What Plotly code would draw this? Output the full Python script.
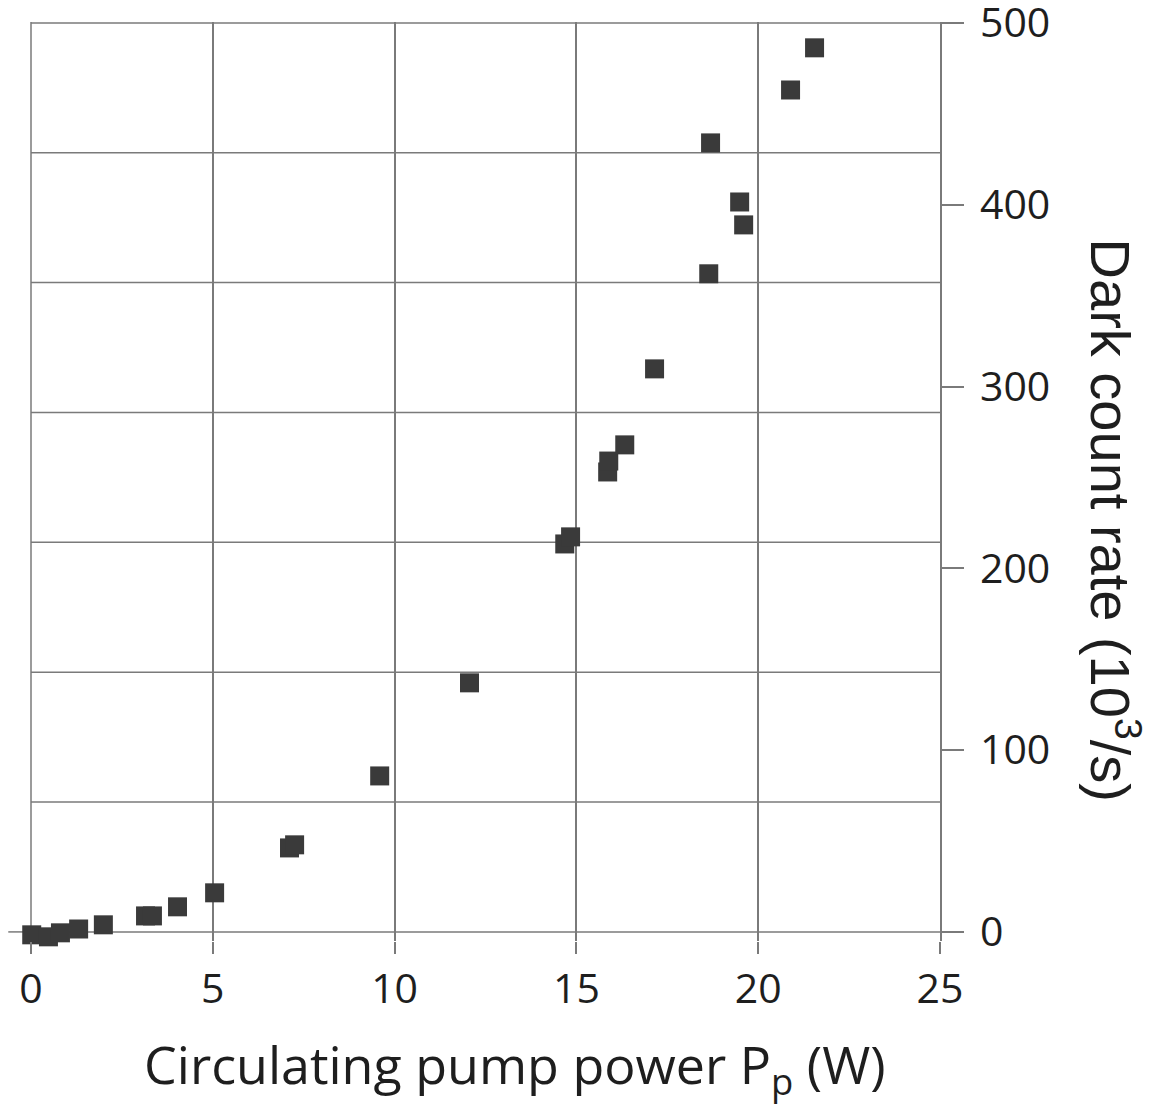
import plotly.graph_objects as go

# Circulating pump power (W)
pump_power = [0.02, 0.48, 0.81, 1.31, 1.99, 3.15, 3.34, 4.03, 5.05, 7.11, 7.25,
              9.59, 12.06, 14.68, 14.84, 15.86, 15.89, 16.33, 17.15, 18.64,
              18.69, 19.49, 19.60, 20.89, 21.55]
# Dark count rate (10^3 /s)
dark_count = [-1.6, -2.7, -0.5, 1.6, 3.9, 8.8, 8.8, 13.8, 21.5, 46.2, 47.9,
              85.8, 137.0, 213.4, 217.3, 253.0, 259.0, 267.9, 309.7, 362.0,
              434.0, 401.5, 388.9, 463.1, 486.3]

x_ticks = [0, 5, 10, 15, 20, 25]
y_ticks = [0, 100, 200, 300, 400, 500]
grid_rows = 7

GRID = "#7a7a7a"
MARK = "#3a3a3a"
TXT = "#1e1e1e"
TICK_FONT = dict(family="Open Sans", size=41, color=TXT)

fig = go.Figure()
fig.add_trace(go.Scatter(
    x=pump_power, y=dark_count, mode="markers",
    marker=dict(symbol="square", size=19, color=MARK, line=dict(width=0)),
    showlegend=False, cliponaxis=False,
))

fig.update_layout(
    width=1158, height=1105,
    margin=dict(l=31, r=218, t=22, b=164, autoexpand=False),
    paper_bgcolor="white", plot_bgcolor="white",
    xaxis=dict(range=[0, 25], tickvals=x_ticks, ticktext=[str(v) for v in x_ticks],
               showgrid=True, gridcolor=GRID, gridwidth=1.5,
               ticks="outside", ticklen=12, tickwidth=1.5, tickcolor=GRID,
               showline=False, zeroline=False, tickfont=TICK_FONT,
               ticklabeloverflow="allow", automargin=False),
    yaxis=dict(range=[-5, 500.5], side="right",
               tickvals=y_ticks, ticktext=[str(v) for v in y_ticks],
               showgrid=False, ticks="outside", ticklen=22, tickwidth=1.5,
               tickcolor=GRID, showline=True, linecolor=GRID, linewidth=1.5,
               zeroline=False, tickfont=TICK_FONT, ticklabelstandoff=8,
               ticklabeloverflow="allow", automargin=False),
)

# horizontal grid (7 rows between 0 and 500, independent of tick labels)
for k in range(grid_rows + 1):
    fig.add_hline(y=y_ticks[-1] * k / grid_rows, line=dict(color=GRID, width=1.5),
                  layer="below")

fig.add_shape(type="line", xref="paper", yref="y", x0=-0.025, x1=0, y0=0, y1=0,
              line=dict(color=GRID, width=1.5), layer="below")
fig.add_shape(type="line", xref="paper", yref="paper", x0=0, x1=0, y0=0, y1=1,
              line=dict(color=GRID, width=1.5), layer="below")

fig.add_annotation(text="Circulating pump power P<sub>p</sub> (W)",
                   xref="paper", yref="paper", x=0.533, y=-0.137,
                   xanchor="center", yanchor="middle", showarrow=False,
                   font=dict(family="Open Sans", size=52, color=TXT))
fig.add_annotation(text="Dark count rate (10<sup>3</sup>/s)",
                   xref="paper", yref="paper", x=1.192, y=0.458,
                   xanchor="center", yanchor="middle", showarrow=False,
                   textangle=90,
                   font=dict(family="Liberation Sans", size=56, color=TXT))

fig.write_html("out.html")
